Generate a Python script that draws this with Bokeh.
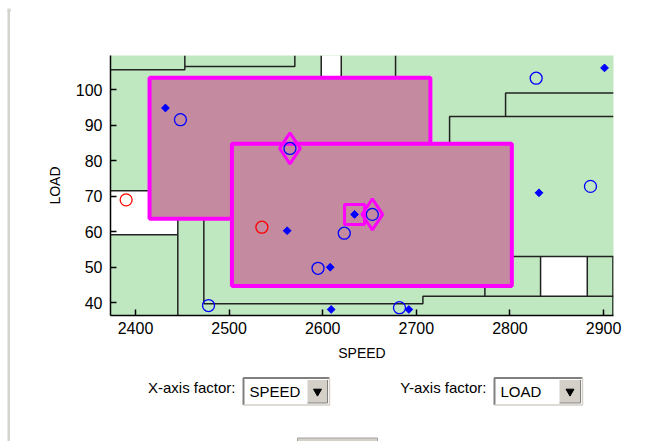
from bokeh.plotting import figure
from bokeh.layouts import row, column
from bokeh.models import Range1d, FixedTicker, Div
from bokeh.core.properties import value
from bokeh.embed import file_html
from bokeh.resources import INLINE
import math

# ---------------- data ----------------
x_ticks = [2400, 2500, 2600, 2700, 2800, 2900]
y_ticks = [40, 50, 60, 70, 80, 90, 100]
x_lim = (2373.3, 2910.6)
y_lim = (36.4, 109.7)

circle_speed = [2448, 2565, 2478, 2653, 2623, 2595, 2682, 2828, 2886]
circle_load = [91.6, 83.5, 39.2, 64.9, 59.6, 49.7, 38.6, 103.3, 72.8]
diamond_speed = [2432, 2562, 2634, 2608, 2609, 2692, 2831, 2901]
diamond_load = [94.9, 60.3, 64.9, 50.0, 38.1, 38.1, 71.0, 106.2]
red_speed = [2390, 2535]
red_load = [69.0, 61.3]
sel_diamond_speed = [2565, 2653]
sel_diamond_load = [83.5, 64.9]
sel_square_speed = [2634]
sel_square_load = [64.9]

box_left = [2415, 2503]
box_right = [2715, 2802]
box_bottom = [63.7, 44.7]
box_top = [103.4, 84.8]

white_left = [2598.4, 2373.3, 2832.7]
white_right = [2619.8, 2445.2, 2882.6]
white_bottom = [100.0, 59.15, 41.8]
white_top = [109.7, 71.6, 53.0]

split_xs = [
    [2373.3, 2452.7, 2452.7],
    [2452.7, 2570.2, 2570.2],
    [2598.4, 2598.4],
    [2619.8, 2619.8],
    [2677.8, 2677.8],
    [2910.6, 2795.3, 2795.3],
    [2910.6, 2735.5, 2735.5],
    [2373.3, 2420.0],
    [2373.3, 2445.2],
    [2445.2, 2445.2],
    [2473.0, 2473.0, 2707.0, 2707.0, 2910.6],
    [2773.2, 2773.2],
    [2790.0, 2910.6],
    [2832.7, 2832.7],
    [2882.6, 2882.6],
    [2910.0, 2910.0],
]
split_ys = [
    [105.7, 105.7, 109.7],
    [106.6, 106.6, 109.7],
    [100.0, 109.7],
    [100.0, 109.7],
    [100.0, 109.7],
    [99.15, 99.15, 92.5],
    [92.5, 92.5, 80.0],
    [71.6, 71.6],
    [59.15, 59.15],
    [66.0, 36.4],
    [66.0, 39.7, 39.7, 41.8, 41.8],
    [46.0, 41.8],
    [53.0, 53.0],
    [53.0, 41.8],
    [53.0, 41.8],
    [53.0, 36.4],
]

x_name = "SPEED"
y_name = "LOAD"

GREEN = "#C0E8C0"
MAUVE = "#C48AA0"
MAGENTA = "#FF00FF"
FRAME_GRAY = "#D6D5CD"
FONT = "Liberation Sans"

# ---------------- main plot ----------------
p = figure(width=641, height=360, output_backend="svg", toolbar_location=None,
           x_range=Range1d(*x_lim), y_range=Range1d(*y_lim),
           min_border_left=100, min_border_right=38, min_border_top=47,
           min_border_bottom=53)
p.background_fill_color = GREEN
p.border_fill_color = "white"
p.outline_line_color = None
p.grid.visible = False

p.quad(left=white_left, right=white_right, bottom=white_bottom, top=white_top,
       fill_color="white", line_color=None)
p.multi_line(xs=split_xs, ys=split_ys, line_color="#222222", line_width=1.5)
p.quad(left=box_left, right=box_right, bottom=box_bottom, top=box_top,
       fill_color=MAUVE, line_color=MAGENTA, line_width=4)

p.scatter(diamond_speed, diamond_load, marker="square", size=5.5,
          angle=math.pi / 4, fill_color="blue", line_color="blue", line_width=1)
p.scatter(circle_speed, circle_load, marker="circle", size=12,
          fill_color=None, line_color="blue", line_width=1.3)
p.scatter(red_speed, red_load, marker="circle", size=12,
          fill_color=None, line_color="red", line_width=1.3)
p.scatter(sel_diamond_speed, sel_diamond_load, marker="diamond", size=31,
          fill_color=None, line_color=MAGENTA, line_width=3)
p.scatter(sel_square_speed, sel_square_load, marker="square", size=20,
          fill_color=None, line_color=MAGENTA, line_width=3)

for ax in (p.xaxis[0], p.yaxis[0]):
    ax.axis_line_color = "black"
    ax.axis_line_width = 1.5
    ax.major_tick_in = 6
    ax.major_tick_out = 0
    ax.major_tick_line_color = "black"
    ax.major_tick_line_width = 1.5
    ax.minor_tick_line_color = None
    ax.major_label_text_font = FONT
    ax.major_label_text_font_size = "16px"
    ax.major_label_text_color = "black"
    ax.axis_label_text_font = FONT
    ax.axis_label_text_font_size = "14px"
    ax.axis_label_text_font_style = "normal"
    ax.axis_label_text_color = "black"

p.xaxis.ticker = FixedTicker(ticks=x_ticks)
p.yaxis.ticker = FixedTicker(ticks=y_ticks)
p.xaxis.axis_label = x_name
p.yaxis.axis_label = y_name
p.xaxis.major_label_standoff = 6
p.yaxis.major_label_standoff = 8
p.xaxis.axis_label_standoff = 8
p.yaxis.axis_label_standoff = 10

# ---------------- controls panel (page pixel coordinates) ----------------
c = figure(width=641, height=73, output_backend="svg", toolbar_location=None,
           x_range=Range1d(110, 613), y_range=Range1d(441, 368),
           min_border_left=100, min_border_right=38, min_border_top=0,
           min_border_bottom=0)
c.axis.visible = False
c.grid.visible = False
c.outline_line_color = None
c.background_fill_color = "white"
c.border_fill_color = "white"

labels = ["X-axis factor:", "Y-axis factor:"]
choices = [x_name, y_name]
label_right = [235, 486]
box_l = [243, 494]
box_r = [329, 582]
btn_l = [307, 559]
btn_r = [327, 580]
box_t, box_b = 377.5, 404.5
mid = 391

c.text(x=label_right, y=[387, 387], text=labels, text_align="right",
       text_baseline="middle", text_font=value(FONT),
       text_font_size=value("15px"), text_color="black")
c.quad(left=box_l, right=box_r, top=[box_t] * 2, bottom=[box_b] * 2,
       fill_color="white", line_color=None)
c.multi_line(xs=[[l, l, r] for l, r in zip(box_l, box_r)],
             ys=[[box_b, box_t, box_t]] * 2, line_color="#808080", line_width=2)
c.multi_line(xs=[[l, r, r] for l, r in zip(box_l, box_r)],
             ys=[[box_b, box_b, box_t]] * 2, line_color="#D4D0C8", line_width=1.5)
c.text(x=[l + 6 for l in box_l], y=[mid, mid], text=choices, text_align="left",
       text_baseline="middle", text_font=value(FONT),
       text_font_size=value("15px"), text_color="black")
c.quad(left=btn_l, right=btn_r, top=[box_t + 2] * 2, bottom=[box_b - 2] * 2,
       fill_color="#D4D0C8", line_color=None)
c.multi_line(xs=[[l, r, r] for l, r in zip(btn_l, btn_r)],
             ys=[[box_b - 2, box_b - 2, box_t + 2]] * 2,
             line_color="#808080", line_width=1)
c.scatter(x=[(l + r) / 2 for l, r in zip(btn_l, btn_r)], y=[mid, mid],
          marker="inverted_triangle", size=8, fill_color="black",
          line_color="black")
c.quad(left=[297], right=[377], top=[437.5], bottom=[442],
       fill_color="#D4D0C8", line_color="#A0A0A0", line_width=1)

# ---------------- window frame bands ----------------
band = figure(width=10, height=433, output_backend="svg", toolbar_location=None,
              x_range=Range1d(0, 1), y_range=Range1d(0, 1),
              min_border_left=7, min_border_right=0, min_border_top=0,
              min_border_bottom=0)
band.axis.visible = False
band.grid.visible = False
band.outline_line_color = None
band.background_fill_color = FRAME_GRAY
band.border_fill_color = "white"

top = Div(text='<div style="margin:4px 0 0 7px;height:3px;width:644px;'
               'background:%s"></div>' % FRAME_GRAY,
          width=651, height=8, margin=0)

layout = column(top, row(band, column(p, c, spacing=0), spacing=0), spacing=0)

open("out.html", "w").write(file_html(layout, INLINE))
